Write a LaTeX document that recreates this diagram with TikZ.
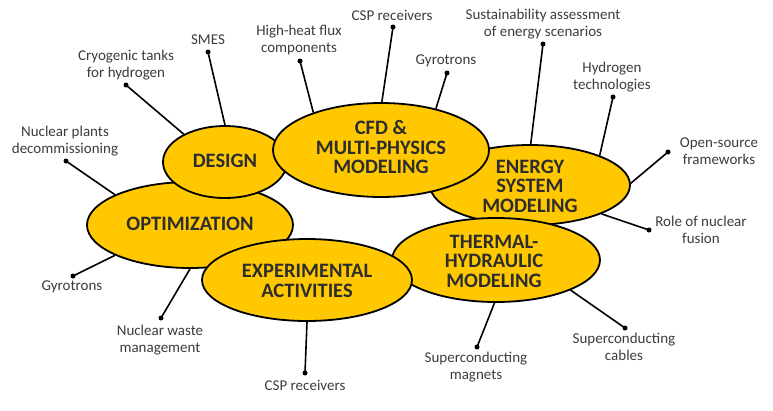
\documentclass[tikz,border=0pt]{standalone}
\usepackage{fontspec}
\setmainfont{Carlito}
\usetikzlibrary{shapes.geometric}
\definecolor{gold}{RGB}{255,200,0}
\definecolor{txt}{RGB}{60,60,60}
\definecolor{ttl}{RGB}{45,45,45}
\begin{document}
\begin{tikzpicture}[x=1pt,y=-1pt,
  area/.style={ellipse, draw=black, line width=1.8pt, fill=gold, inner sep=0pt},
  title/.style={align=center, font=\fontsize{20.5}{19.5}\selectfont\bfseries, text=ttl, inner sep=0pt},
  lbl/.style={align=center, font=\fontsize{15}{16.5}\selectfont, text=txt, inner sep=0pt},
  dot/.style={circle, fill=black, inner sep=0pt, minimum size=5pt},
  link/.style={line width=1.6pt}]
\useasboundingbox (0,0) rectangle (773,410);

% ellipses (back to front)
\node[area, minimum width=206pt, minimum height=86pt] (opt) at (190,225) {};
\node[area, minimum width=124pt, minimum height=72pt] (des) at (225,162) {};
\node[area, minimum width=200pt, minimum height=80pt] (ene) at (530,185) {};
\node[area, minimum width=208pt, minimum height=84pt] (the) at (496,260) {};
\node[area, minimum width=216pt, minimum height=94pt] (cfd) at (381,150) {};
\node[area, minimum width=210pt, minimum height=82pt] (exp) at (307,280) {};

% titles
\node[title] (optT) at (190,224) {OPTIMIZATION};
\node[title] (desT) at (225,161) {DESIGN};
\node[title] (eneT) at (530,186) {ENERGY\\SYSTEM\\MODELING};
\node[title] (theT) at (494,261) {THERMAL-\\HYDRAULIC\\MODELING};
\node[title] (cfdT) at (381,147) {CFD \&\\MULTI-PHYSICS\\MODELING};
\node[title] (expT) at (307,281) {EXPERIMENTAL\\ACTIVITIES};

% labels
\node[lbl] (l1) at (208,40) {SMES};
\node[lbl] (l2) at (126,65) {Cryogenic tanks\\for hydrogen};
\node[lbl] (l3) at (299,40) {High-heat flux\\components};
\node[lbl] (l4) at (392,15) {CSP receivers};
\node[lbl] (l5) at (446,61) {Gyrotrons};
\node[lbl] (l6) at (543,24) {Sustainability assessment\\of energy scenarios};
\node[lbl] (l7) at (612,77) {Hydrogen\\technologies};
\node[lbl] (l8) at (719,151) {Open-source\\frameworks};
\node[lbl] (l9) at (65,141) {Nuclear plants\\decommissioning};
\node[lbl] (l10) at (72,287) {Gyrotrons};
\node[lbl] (l11) at (160,340) {Nuclear waste\\management};
\node[lbl] (l12) at (305,385) {CSP receivers};
\node[lbl] (l13) at (701,230) {Role of nuclear\\fusion};
\node[lbl] (l14) at (476,367) {Superconducting\\magnets};
\node[lbl] (l15) at (624,347) {Superconducting\\cables};

% dots
\node[dot] (d1) at (208,52) {};
\node[dot] (d2) at (126,85) {};
\node[dot] (d3) at (300,61) {};
\node[dot] (d4) at (393,27) {};
\node[dot] (d5) at (447,73) {};
\node[dot] (d6) at (543,44) {};
\node[dot] (d7) at (613,97) {};
\node[dot] (d8) at (668,152) {};
\node[dot] (d9) at (66,161) {};
\node[dot] (d10) at (73,276) {};
\node[dot] (d11) at (161,318) {};
\node[dot] (d12) at (305,373) {};
\node[dot] (d13) at (649,230) {};
\node[dot] (d14) at (477,347) {};
\node[dot] (d15) at (625,328) {};

% connectors
\draw[link] (des.90) -- (d1.center);
\draw[link] (des.146) -- (d2.center);
\draw[link] (cfd.151) -- (d3.center);
\draw[link] (cfd.89) -- (d4.center);
\draw[link] (cfd.37) -- (d5.center);
\draw[link] (ene.89) -- (d6.center);
\draw[link] (ene.23) -- (d7.center);
\draw[link] (ene.1) -- (d8.center);
\draw[link] (opt.158) -- (d9.center);
\draw[link] (opt.202) -- (d10.center);
\draw[link] (opt.270) -- (d11.center);
\draw[link] (exp.270) -- (d12.center);
\draw[link] (ene.-22) -- (d13.center);
\draw[link] (the.268) -- (d14.center);
\draw[link] (the.-22) -- (d15.center);
\end{tikzpicture}
\end{document}
